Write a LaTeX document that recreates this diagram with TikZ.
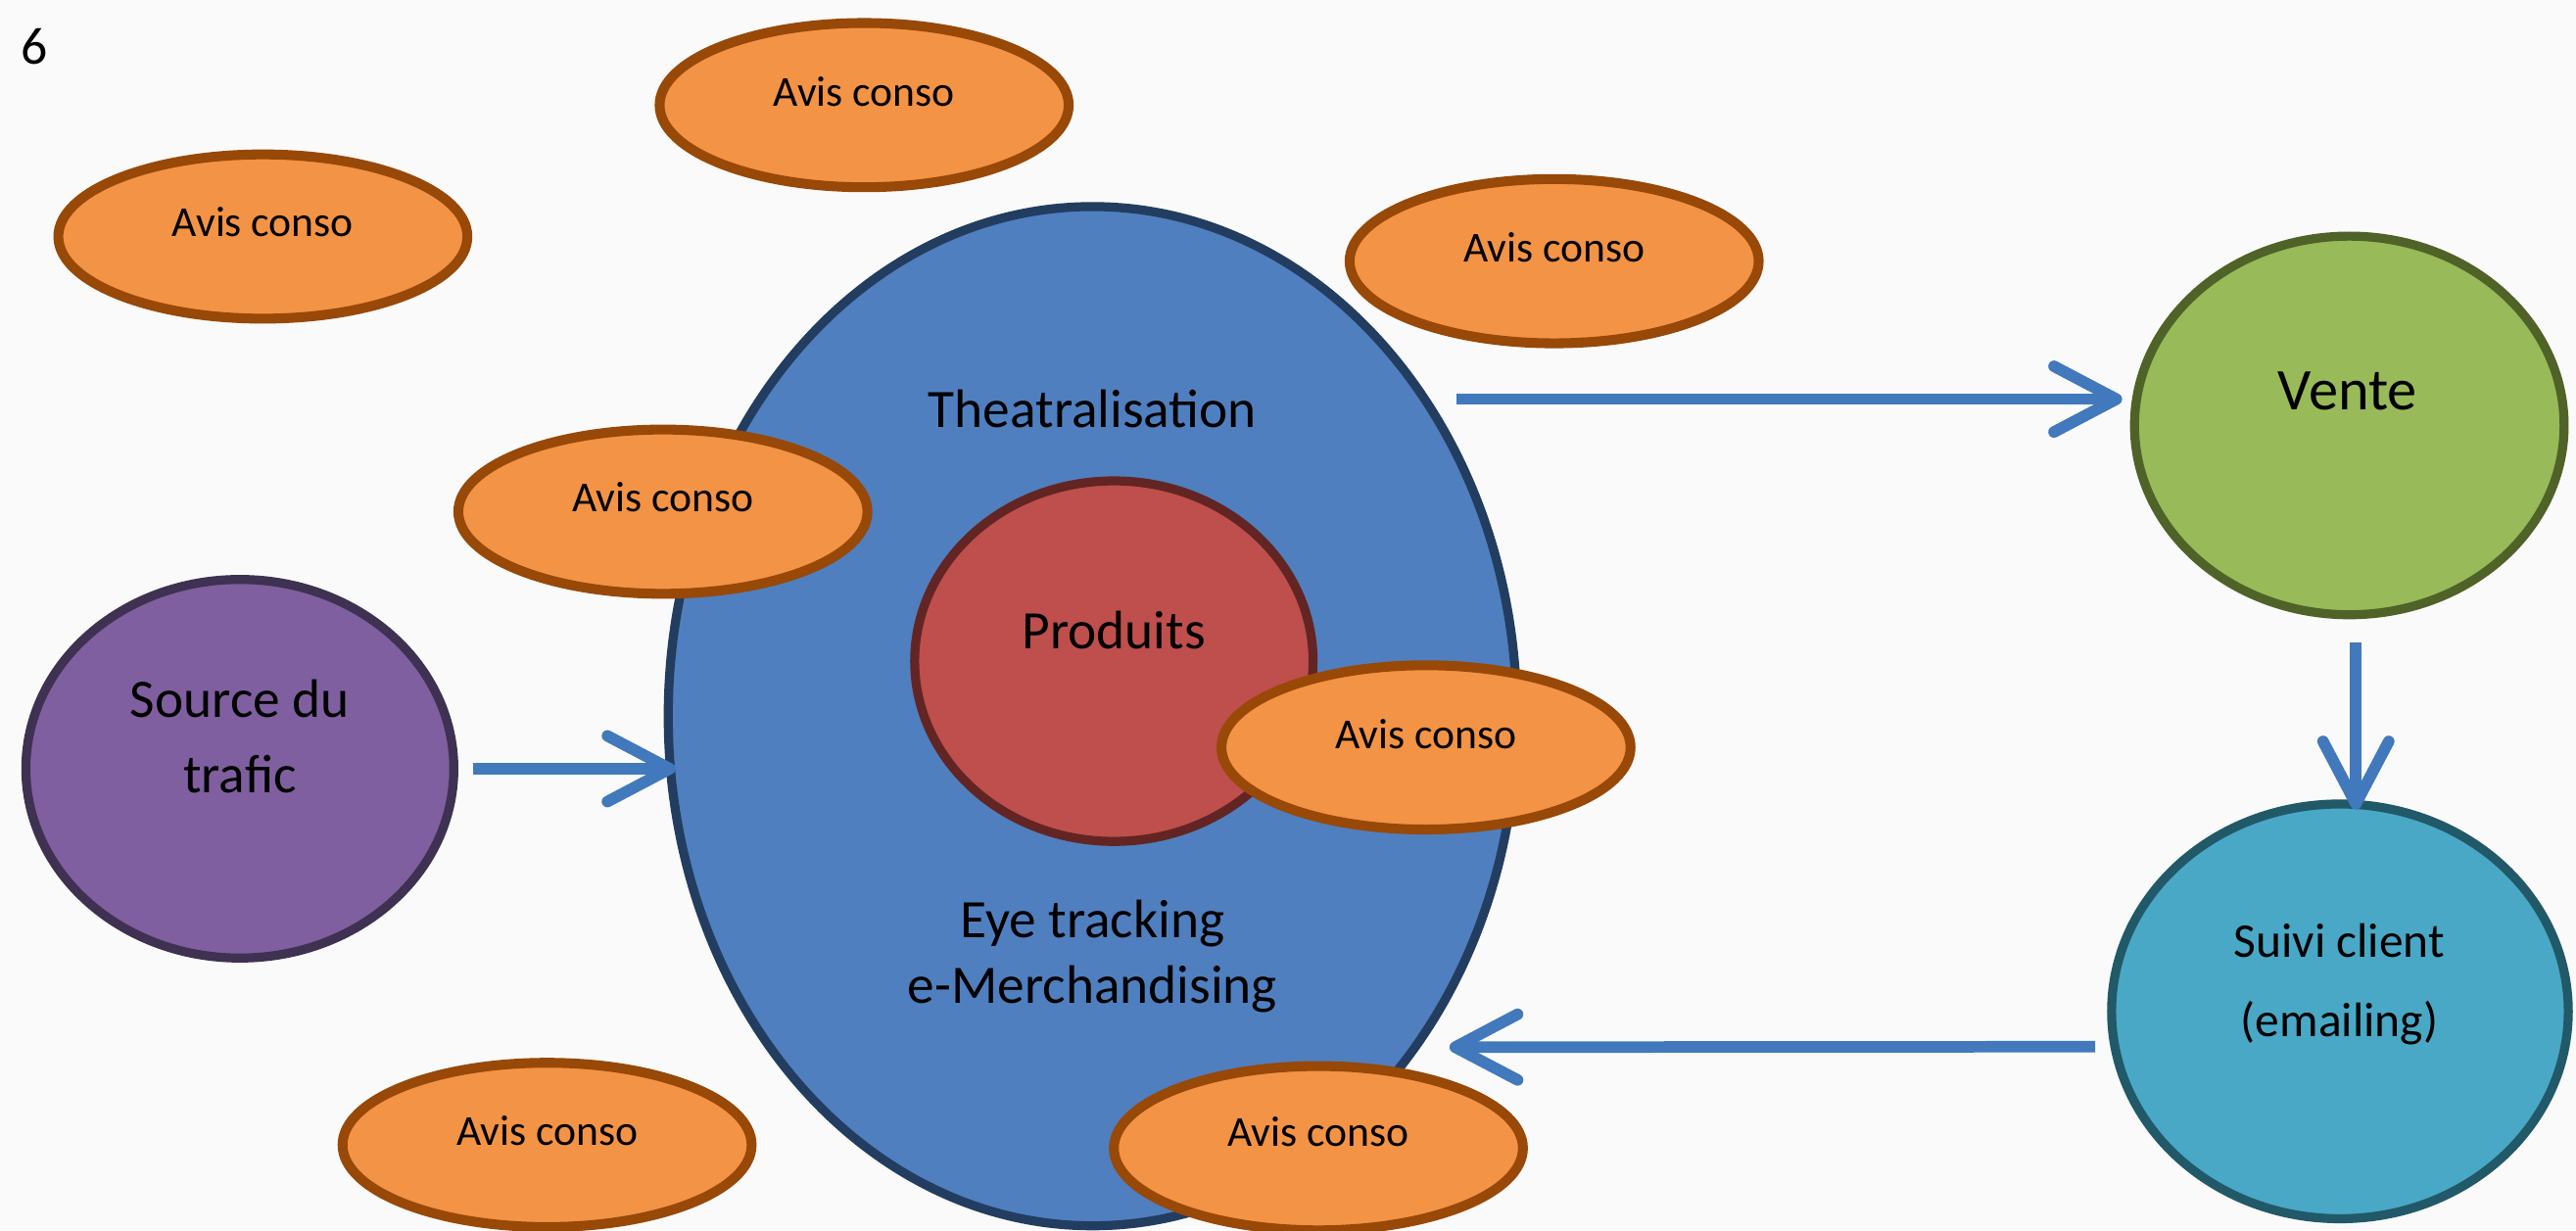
\documentclass[tikz,border=0pt]{standalone}
\usepackage{fontspec}
\setmainfont{Carlito}
\usetikzlibrary{shapes.geometric,arrows.meta,calc}
\definecolor{bg}{HTML}{FAFAFA}
\definecolor{orfill}{HTML}{F39345}
\definecolor{ordraw}{HTML}{984807}
\definecolor{blfill}{HTML}{4F7FBF}
\definecolor{bldraw}{HTML}{223D60}
\definecolor{rdfill}{HTML}{BE4F4C}
\definecolor{rddraw}{HTML}{632523}
\definecolor{pufill}{HTML}{7F5F9F}
\definecolor{pudraw}{HTML}{3F3151}
\definecolor{grfill}{HTML}{98BA58}
\definecolor{grdraw}{HTML}{4F6228}
\definecolor{tefill}{HTML}{49A8C6}
\definecolor{tedraw}{HTML}{215968}
\definecolor{arrc}{HTML}{4179BC}
\tikzset{
  shp/.style={ellipse, inner sep=0pt, outer sep=0pt, line width=5.5pt},
  avis/.style={shp, fill=orfill, draw=ordraw, line width=6pt, minimum width=249pt, minimum height=100pt},
  lbl/.style={anchor=base, inner sep=0pt, text=black, font=\fontsize{33}{40}\selectfont},
  avislbl/.style={lbl, font=\fontsize{26}{31}\selectfont},
  arr/.style={draw=arrc, line width=7pt, -{Straight Barb[length=38pt, width=40pt, line width=0pt 1, round]}},
}
\begin{document}
\begin{tikzpicture}[x=1pt,y=-1pt]
\fill[bg] (0,0) rectangle (1568,749);
\useasboundingbox (0,0) rectangle (1568,749);

% main shapes
\node[shp, fill=blfill, draw=bldraw, minimum width=516.5pt, minimum height=620.5pt] (blue) at (665,436) {};
\node[shp, fill=rdfill, draw=rddraw, minimum width=242.5pt, minimum height=219.5pt] (prod) at (678,402.5) {};
\node[shp, fill=pufill, draw=pudraw, minimum width=260.5pt, minimum height=230.5pt] (src) at (146,468) {};
\node[shp, fill=grfill, draw=grdraw, minimum width=261.5pt, minimum height=230.5pt] (vente) at (1430,259) {};
\node[shp, fill=tefill, draw=tedraw, minimum width=278pt, minimum height=252.5pt] (suivi) at (1424.3,615.7) {};

% Avis conso ellipses
\node[avis] (a1) at (526,64) {};
\node[avis] (a2) at (160,144) {};
\node[avis] (a3) at (946,159) {};
\node[avis] (a4) at (403.5,311.5) {};
\node[avis] (a5) at (868,455) {};
\node[avis] (a6) at (333,697) {};
\node[avis] (a7) at (802.5,699) {};

% labels
\node[lbl, anchor=base west, font=\fontsize{32}{38}\selectfont] (six) at (12.5,39) {6};
\node[lbl] (t1) at (665,260) {Theatralisation};
\node[lbl] (t2) at (678,395) {Produits};
\node[lbl] (t3) at (665,571) {Eye tracking};
\node[lbl] (t4) at (665,611) {e-Merchandising};
\node[lbl] (t5) at (146,436.6) {Source du};
\node[lbl] (t6) at (146,482.5) {trafic};
\node[lbl, font=\fontsize{36}{43}\selectfont] (t7) at (1429,249.6) {Vente};
\node[lbl, font=\fontsize{29.5}{35}\selectfont] (t8) at (1424,582.6) {Suivi client};
\node[lbl, font=\fontsize{29.5}{35}\selectfont] (t9) at (1424,631) {(emailing)};

\node[avislbl] (l1) at (526,64.5) {Avis conso};
\node[avislbl] (l2) at (160,144) {Avis conso};
\node[avislbl] (l3) at (946,159.5) {Avis conso};
\node[avislbl] (l4) at (403.5,311.5) {Avis conso};
\node[avislbl] (l5) at (868,455.5) {Avis conso};
\node[avislbl] (l6) at (333,697.3) {Avis conso};
\node[avislbl] (l7) at (802.5,698) {Avis conso};

% connectors
\draw[arr] ($(src.east)+(12,0)$) -- ($(blue.west)+(4.5,32)$);
\draw[arr] ($(blue.east)+(-36.5,-193)$) -- ($(vente.west)+(-7.5,-16)$);
\draw[arr] ($(vente.south)+(4,16.6)$) -- ($(suivi.north)+(9.7,3.4)$);
\draw[arr] ($(suivi.west)+(-10,21.5)$) -- ($(blue.east)+(-41,201.5)$);
\end{tikzpicture}
\end{document}
